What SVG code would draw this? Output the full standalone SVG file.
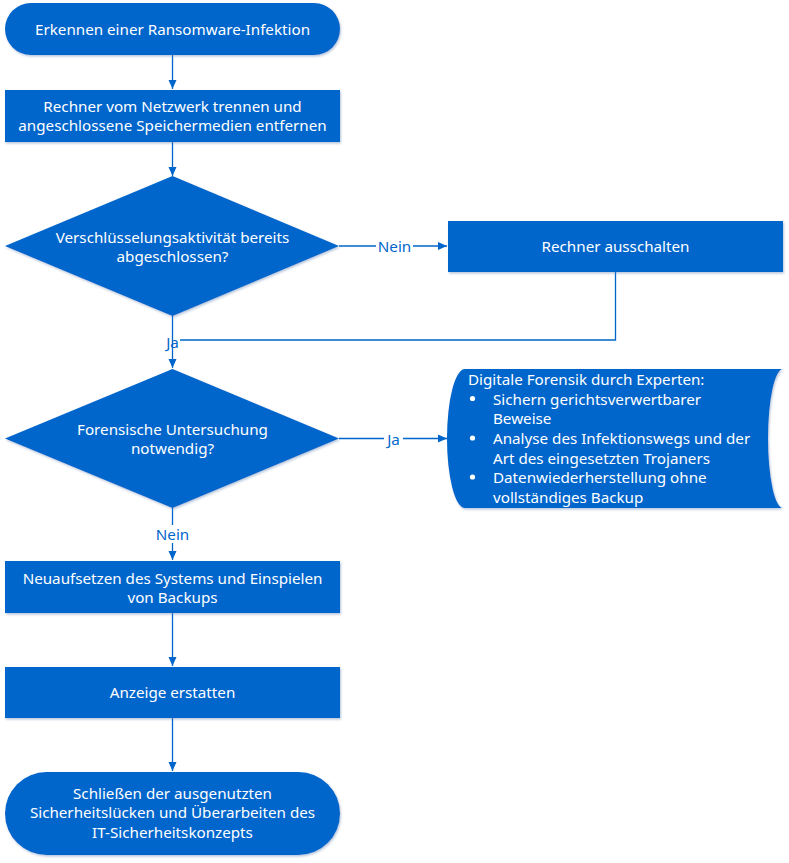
<svg xmlns="http://www.w3.org/2000/svg" width="789" height="863" viewBox="0 0 789 863">
<defs>
<style>
.n{fill:#0066cc;filter:url(#sh)}
.t{font-family:"Noto Sans","Open Sans",sans-serif;font-size:15.2px;fill:#ffffff;text-anchor:middle;dominant-baseline:central}
.tl{font-family:"Noto Sans","Open Sans",sans-serif;font-size:15.2px;fill:#ffffff;dominant-baseline:central}
.c{stroke:#0066cc;stroke-width:1.3;fill:none}
.ca{stroke:#0066cc;stroke-width:1.3;fill:none;marker-end:url(#ah)}
.lb{font-family:"Noto Sans","Open Sans",sans-serif;font-size:15.2px;fill:#0066cc;text-anchor:middle;dominant-baseline:central}
.bg{fill:#ffffff}
</style>
<filter id="sh" x="-5%" y="-5%" width="110%" height="115%">
<feDropShadow dx="1" dy="1.5" stdDeviation="1.2" flood-color="#5a7fb0" flood-opacity="0.45"/>
</filter>
<marker id="ah" markerWidth="10" markerHeight="10" refX="9" refY="5" orient="auto" markerUnits="userSpaceOnUse">
<path d="M0,1 L9,5 L0,9 Z" fill="#0066cc"/>
</marker>
</defs>
<g id="connectors">
<line class="ca" x1="172.5" y1="55" x2="172.5" y2="89"/>
<line class="ca" x1="172.5" y1="142" x2="172.5" y2="176"/>
<line class="ca" x1="339" y1="246" x2="447" y2="246"/>
<rect class="bg" x="376" y="237" width="37" height="18"/>
<text class="lb" x="394.5" y="246">Nein</text>
<polyline class="c" points="615.5,272 615.5,340 180,340"/>
<line class="ca" x1="172.5" y1="316" x2="172.5" y2="368"/>
<text class="lb" x="172.5" y="342">Ja</text>
<line class="ca" x1="339" y1="438.5" x2="447" y2="438.5"/>
<rect class="bg" x="384" y="430" width="19" height="18"/>
<text class="lb" x="393.5" y="438.5">Ja</text>
<line class="ca" x1="172.5" y1="508" x2="172.5" y2="560"/>
<rect class="bg" x="154" y="525" width="37" height="18"/>
<text class="lb" x="172.5" y="534">Nein</text>
<line class="ca" x1="172.5" y1="613" x2="172.5" y2="666"/>
<line class="ca" x1="172.5" y1="718" x2="172.5" y2="771"/>
</g>
<g id="start">
<rect class="n" x="5" y="3" width="335" height="52" rx="26"/>
<text class="t" x="172.5" y="29">Erkennen einer Ransomware-Infektion</text>
</g>
<g id="trennen">
<rect class="n" x="5" y="90" width="335" height="52"/>
<text class="t" x="172.5" y="106">Rechner vom Netzwerk trennen und</text>
<text class="t" x="172.5" y="125">angeschlossene Speichermedien entfernen</text>
</g>
<g id="decision1">
<polygon class="n" points="172.5,176 339,246 172.5,316 5,246"/>
<text class="t" x="172.5" y="237">Verschlüsselungsaktivität bereits</text>
<text class="t" x="172.5" y="256">abgeschlossen?</text>
</g>
<g id="ausschalten">
<rect class="n" x="448" y="221" width="335" height="51"/>
<text class="t" x="615.5" y="246">Rechner ausschalten</text>
</g>
<g id="decision2">
<polygon class="n" points="172.5,369 339,438.5 172.5,508 5,438.5"/>
<text class="t" x="172.5" y="429">Forensische Untersuchung</text>
<text class="t" x="172.5" y="448">notwendig?</text>
</g>
<g id="forensik">
<path class="n" d="M465,369 H783 A15,69.5 0 0 0 783,508 H465 A18,69.5 0 0 1 465,369 Z"/>
<text class="tl" x="468" y="379">Digitale Forensik durch Experten:</text>
<circle cx="472.5" cy="398.5" r="2.6" fill="#ffffff"/>
<text class="tl" x="493" y="398.5">Sichern gerichtsverwertbarer</text>
<text class="tl" x="493" y="418">Beweise</text>
<circle cx="472.5" cy="438" r="2.6" fill="#ffffff"/>
<text class="tl" x="493" y="438">Analyse des Infektionswegs und der</text>
<text class="tl" x="493" y="457.5">Art des eingesetzten Trojaners</text>
<circle cx="472.5" cy="477" r="2.6" fill="#ffffff"/>
<text class="tl" x="493" y="477">Datenwiederherstellung ohne</text>
<text class="tl" x="493" y="496.5">vollständiges Backup</text>
</g>
<g id="neuaufsetzen">
<rect class="n" x="5" y="561" width="335" height="52"/>
<text class="t" x="172.5" y="578">Neuaufsetzen des Systems und Einspielen</text>
<text class="t" x="172.5" y="597">von Backups</text>
</g>
<g id="anzeige">
<rect class="n" x="5" y="667" width="335" height="51"/>
<text class="t" x="172.5" y="692">Anzeige erstatten</text>
</g>
<g id="end">
<rect class="n" x="5" y="772" width="335" height="83" rx="41.5"/>
<text class="t" x="172.5" y="793">Schließen der ausgenutzten</text>
<text class="t" x="172.5" y="812">Sicherheitslücken und Überarbeiten des</text>
<text class="t" x="172.5" y="832">IT-Sicherheitskonzepts</text>
</g>
</svg>
